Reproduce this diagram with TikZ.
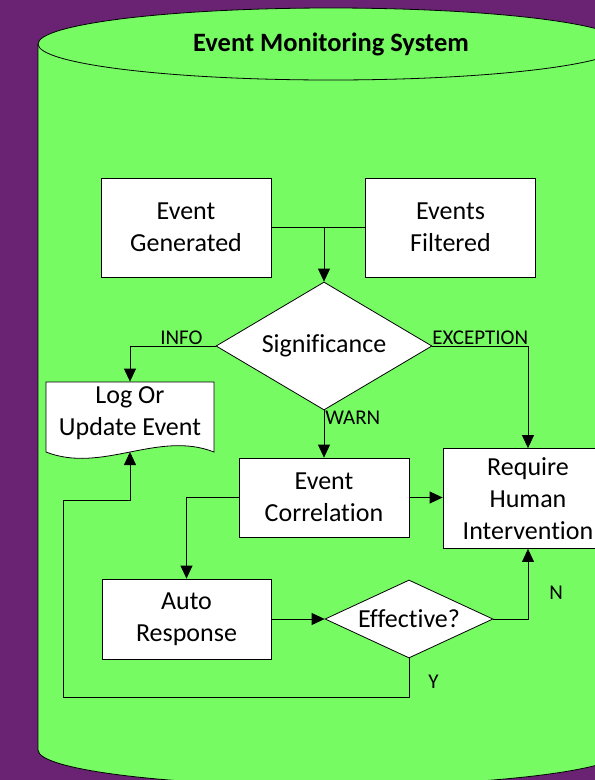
\documentclass[tikz,border=0pt]{standalone}
\usepackage{fontspec}
\setmainfont{Carlito}[Ligatures=NoCommon]
\usepackage{tikz}
\usetikzlibrary{shapes.geometric}
\usetikzlibrary{arrows.meta}
\definecolor{bgpurple}{RGB}{106,35,114}
\definecolor{cylgreen}{RGB}{118,251,99}

\begin{document}
\begin{tikzpicture}[x=1pt, y=-1pt,
    box/.style={draw, fill=white, line width=0.8pt, minimum width=170pt, align=center, font=\fontsize{26}{32}\selectfont},
    decision/.style={diamond, draw, fill=white, line width=0.8pt, inner sep=0pt, font=\fontsize{26}{32}\selectfont},
    flow/.style={line width=0.8pt, -{Triangle[width=12pt,length=13pt]}},
    lbl/.style={font=\fontsize{21}{25}\selectfont, inner sep=1pt}]
    % Page
    \useasboundingbox (0,0) rectangle (595,780);
    \clip (0,0) rectangle (595,780);
    \fill [bgpurple] (0,0) rectangle (595,780);
    % Cylinder
    \draw [fill=cylgreen, line width=0.8pt] (38,44) -- (38,750)
        arc [start angle=180, end angle=360, x radius=293pt, y radius=36pt]
        -- (624,44)
        arc [start angle=0, end angle=180, x radius=293pt, y radius=36pt] -- cycle;
    \draw [line width=0.8pt] (38,44) arc [start angle=180, end angle=360, x radius=293pt, y radius=36pt];
    \node (title) at (331,44) {\fontsize{26.5}{32}\selectfont\bfseries Event Monitoring System};
    % Event sources
    \node [box, minimum height=99pt] (gen) at (186,227.5) {Event\\Generated};
    \node [box, minimum height=99pt] (filt) at (450.5,227.5) {Events\\Filtered};
    \coordinate (join) at (324,227.5);
    \draw [line width=0.8pt] (gen.east) -- (filt.west);
    % Significance
    \node [decision, minimum width=216pt, minimum height=128pt, aspect=1.69] (sig) at (324,346) {Significance};
    \draw [flow] (join) -- (sig.north);
    % Log document
    \draw [fill=white, line width=0.8pt] (46,382) -- (214,382) -- (214,452)
        .. controls (158,430) and (102,474) .. (46,452) -- cycle;
    \node [box, draw=none, fill=none, minimum width=168pt, minimum height=62pt] (log) at (130,413) {Log Or\\Update Event};
    \coordinate (login) at (130,452);
    % Correlation and human
    \node [box, minimum height=79pt] (corr) at (324,497.5) {Event\\Correlation};
    \node [box, minimum height=100pt] (req) at (528,498.5) {Require\\Human\\Intervention};
    % Auto response
    \node [box, minimum height=80pt, minimum width=169pt] (auto) at (186.5,619) {Auto\\Response};
    \node [decision, minimum width=168pt, minimum height=78pt, aspect=2.15] (eff) at (409,619) {Effective?};
    % Branches
    \draw [flow] (sig.west) -| (log.north) node [lbl, pos=0.2, above] {INFO};
    \draw [flow] (sig.east) -| (req.north) node [lbl, pos=0.25, above] {EXCEPTION};
    \draw [flow] (sig.south) -- (corr.north) node [lbl, pos=0.15, right] {WARN};
    \draw [flow] (corr.east) -- (corr.east -| req.west);
    \draw [flow] (corr.west) -| (auto.north);
    \draw [flow] (auto.east) -- (eff.west);
    \draw [flow] (eff.east) -| (req.south) node [lbl, pos=0.69, right=20pt] {N};
    % Loop back to log
    \coordinate (ybot) at (63,697);
    \coordinate (yup) at (63,500);
    \draw [flow] (eff.south) |- node [lbl, pos=0.3, right=18pt] {Y} (ybot) -- (yup) -| (login);
\end{tikzpicture}
\end{document}
